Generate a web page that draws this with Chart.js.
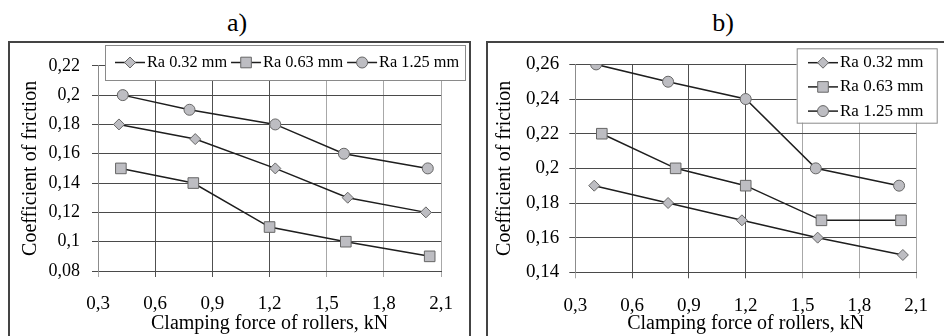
<!DOCTYPE html>
<html>
<head>
<meta charset="utf-8">
<script src="https://cdn.jsdelivr.net/npm/chart.js@4.4.0/dist/chart.umd.min.js"></script>
<style>
  html, body { margin: 0; padding: 0; background: #fff; width: 944px; height: 336px; overflow: hidden; position: relative; }
  .ptitle { position: absolute; top: 10px; width: 200px; text-align: center; font-size: 26px; line-height: 26px; font-family: "Liberation Serif", Tinos, "DejaVu Serif", Times, serif; color: #000; }
  .box { position: absolute; top: 41px; height: 310px; border: 2px solid #444; box-sizing: border-box; }
  .box canvas { position: absolute; left: 0; top: 0; }
</style>
</head>
<body>

<div class="ptitle" style="left:137px">a)</div>
<div class="ptitle" style="left:623px">b)</div>

<div class="box" style="left:8px; width:463px"><canvas id="chartA" width="459" height="293"></canvas></div>
<div class="box" style="left:486px; width:480px"><canvas id="chartB" width="456" height="293"></canvas></div>

<script>
// ── Data ─────────────────────────────────────────────────────
const seriesLabels = ["Ra 0.32 mm", "Ra 0.63 mm", "Ra 1.25 mm"];

const xTicks  = [0.3, 0.6, 0.9, 1.2, 1.5, 1.8, 2.1];
const yTicksA = [0.08, 0.1, 0.12, 0.14, 0.16, 0.18, 0.2, 0.22];
const yTicksB = [0.14, 0.16, 0.18, 0.2, 0.22, 0.24, 0.26];

// panel a)
const forceA032 = [0.41, 0.81, 1.23, 1.61, 2.02];
const frictA032 = [0.18, 0.17, 0.15, 0.13, 0.12];
const forceA063 = [0.42, 0.80, 1.20, 1.60, 2.04];
const frictA063 = [0.15, 0.14, 0.11, 0.10, 0.09];
const forceA125 = [0.43, 0.78, 1.23, 1.59, 2.03];
const frictA125 = [0.20, 0.19, 0.18, 0.16, 0.15];

// panel b)
const forceB032 = [0.40, 0.79, 1.18, 1.58, 2.03];
const frictB032 = [0.19, 0.18, 0.17, 0.16, 0.15];
const forceB063 = [0.44, 0.83, 1.20, 1.60, 2.02];
const frictB063 = [0.22, 0.20, 0.19, 0.17, 0.17];
const forceB125 = [0.41, 0.79, 1.20, 1.57, 2.01];
const frictB125 = [0.26, 0.25, 0.24, 0.20, 0.19];

// ── Style ────────────────────────────────────────────────────
const SERIF = '"Liberation Serif", Tinos, "DejaVu Serif", Times, serif';
Chart.defaults.font.family = SERIF;
Chart.defaults.color = "#000";

const markers = [
  { pointStyle: "rectRot", pointRadius: 5.5 },
  { pointStyle: "rect",    pointRadius: 7.5 },
  { pointStyle: "circle",  pointRadius: 5.5 },
];

const fmt = (v) => Number(v.toFixed(2)).toString().replace(".", ",");
const pairs = (xs, ys) => xs.map((x, i) => ({ x, y: ys[i] }));

// ── Legend drawn in a white box over the plot ───────────────
const boxLegend = {
  id: "boxLegend",
  afterDraw(chart, args, o) {
    const ctx = chart.ctx;
    ctx.save();
    ctx.fillStyle = "#fff";
    ctx.fillRect(o.x, o.y, o.w, o.h);
    ctx.strokeStyle = "#8a8a8a";
    ctx.lineWidth = 1;
    ctx.strokeRect(o.x + 0.5, o.y + 0.5, o.w, o.h);

    ctx.font = `${o.fontSize}px ${SERIF}`;
    ctx.textBaseline = "middle";
    let x = o.x + o.padX;
    let y = o.y + o.firstY;
    chart.data.datasets.forEach((ds) => {
      ctx.strokeStyle = ds.borderColor;
      ctx.lineWidth = 1.5;
      ctx.beginPath();
      ctx.moveTo(x, y);
      ctx.lineTo(x + 30, y);
      ctx.stroke();
      ctx.fillStyle = ds.pointBackgroundColor;
      ctx.strokeStyle = ds.pointBorderColor;
      ctx.lineWidth = 1;
      Chart.helpers.drawPoint(ctx, {
        pointStyle: ds.pointStyle, radius: ds.pointRadius, rotation: 0, borderWidth: 1,
      }, x + 15, y);
      ctx.fillStyle = "#000";
      ctx.fillText(ds.label, x + 32, y);
      if (o.horizontal) x += 32 + ctx.measureText(ds.label).width + 4;
      else y += o.rowH;
    });
    ctx.restore();
  },
};

// ── Chart builder ────────────────────────────────────────────
function makeChart(id, series, yTicks, lay) {
  const datasets = series.map((s, i) => ({
    label: seriesLabels[i],
    data: s,
    borderColor: "#1e1e1e",
    borderWidth: 1.5,
    pointBackgroundColor: "#bdbdc2",
    pointBorderColor: "#666",
    pointBorderWidth: 1,
    pointStyle: markers[i].pointStyle,
    pointRadius: markers[i].pointRadius,
    tension: 0,
  }));

  return new Chart(document.getElementById(id), {
    type: "line",
    data: { datasets },
    plugins: [boxLegend],
    options: {
      responsive: false,
      animation: false,
      layout: { padding: { top: lay.top, right: lay.right, left: 0, bottom: 0 } },
      plugins: {
        legend: { display: false },
        tooltip: { enabled: false },
        boxLegend: lay.legend,
      },
      scales: {
        x: {
          type: "linear",
          min: xTicks[0],
          max: xTicks[xTicks.length - 1],
          afterBuildTicks: (sc) => { sc.ticks = xTicks.map((v) => ({ value: v })); },
          afterFit: (sc) => { sc.height = lay.xHeight; },
          ticks: { callback: fmt, font: { size: 19, family: SERIF }, padding: 16, maxRotation: 0 },
          grid: {
            color: (c) => (c.tick && (c.tick.value >= 1.45 || c.tick.value < 0.35) ? "#a8a8a8" : "#505050"),
            lineWidth: 1,
            tickLength: 6,
          },
          border: { color: "#4a4a4a", width: 1 },
          title: {
            display: true,
            text: "Clamping force of rollers, kN",
            font: { size: 20, family: SERIF },
            padding: { top: 1, bottom: 0 },
          },
        },
        y: {
          min: yTicks[0],
          max: yTicks[yTicks.length - 1],
          afterBuildTicks: (sc) => { sc.ticks = yTicks.map((v) => ({ value: v })); },
          afterFit: (sc) => { sc.width = lay.yWidth; },
          ticks: { callback: fmt, font: { size: lay.yFont, family: SERIF }, padding: lay.yPad },
          grid: { color: "#4a4a4a", lineWidth: 1, tickLength: 6 },
          border: { color: "#8c8c8c", width: 1 },
          title: {
            display: true,
            text: "Coefficient of friction",
            font: { size: 20, family: SERIF },
            padding: { top: lay.yTitlePad, bottom: 0 },
          },
        },
      },
    },
  });
}

makeChart("chartA",
  [pairs(forceA032, frictA032), pairs(forceA063, frictA063), pairs(forceA125, frictA125)],
  yTicksA,
  {
    top: 14.5, right: 20, xHeight: 65, yWidth: 88, yFont: 18, yPad: 12, yTitlePad: 9,
    legend: { horizontal: true, x: 95, y: 2, w: 360, h: 35, padX: 10, firstY: 17.5, fontSize: 16.3 },
  });

makeChart("chartB",
  [pairs(forceB032, frictB032), pairs(forceB063, frictB063), pairs(forceB125, frictB125)],
  yTicksB,
  {
    top: 13.7, right: 17.7, xHeight: 63.7, yWidth: 87.3, yFont: 19, yPad: 10, yTitlePad: 5,
    legend: { horizontal: false, x: 308.7, y: 5.3, w: 140, h: 74.4, padX: 11.3, firstY: 14.4, rowH: 24.2, fontSize: 17 },
  });
</script>
</body>
</html>
